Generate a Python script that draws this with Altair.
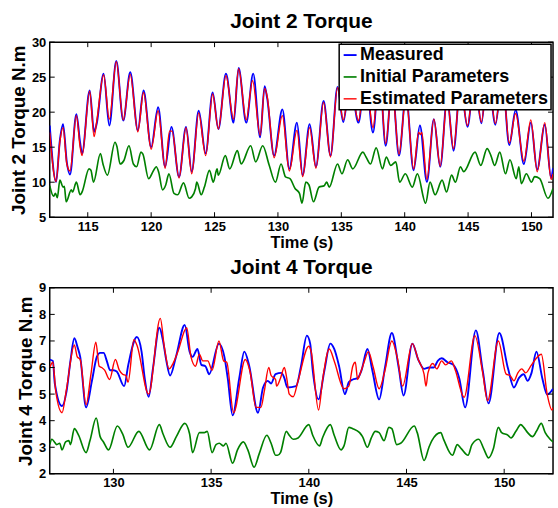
import altair as alt
import pandas as pd

# ---------------- Joint 2 (top panel) ----------------
j2_meas_t = [112.0, 112.5, 112.8, 113.05, 113.35, 113.6, 114.1, 114.4, 114.55, 115.15, 115.5, 115.7,
             116.25, 116.7, 117.25, 117.8, 118.35, 118.95, 119.4, 120.0, 120.55, 121.1, 121.6, 122.2,
             122.75, 123.2, 123.75, 124.3, 124.85, 125.3, 125.9, 126.5, 126.9, 127.5, 128.05, 128.6,
             128.95, 129.15, 129.7, 130.35, 130.9, 131.5, 131.95, 132.5, 133.0, 133.6, 134.15, 134.7,
             135.15, 135.7, 136.35, 136.9, 137.5, 138.0, 138.5, 139.0, 139.55, 140.1, 140.7, 141.2,
             141.75, 142.3, 142.8, 143.35, 143.85, 144.4, 144.95, 145.5, 146.05, 146.55, 147.15, 147.7,
             148.25, 148.75, 149.4, 149.95, 150.45, 151.05, 151.55, 151.7]
j2_meas_v = [18.1, 10.05, 16.0, 18.3, 12.8, 11.1, 19.7, 15.6, 14.1, 23.1, 17.2, 18.3,
             25.5, 18.1, 27.3, 18.8, 25.7, 17.4, 23.1, 15.0, 20.7, 12.2, 17.9, 10.75,
             17.9, 11.5, 20.2, 14.1, 22.8, 17.6, 25.5, 18.5, 26.3, 18.5, 25.5, 16.4,
             23.7, 22.0, 13.8, 20.4, 11.9, 18.5, 11.0, 18.3, 12.2, 21.6, 13.8, 23.6,
             18.6, 24.5, 18.5, 25.5, 17.1, 25.8, 15.2, 24.0, 13.8, 22.5, 11.7, 18.1,
             10.05, 19.0, 12.2, 22.0, 14.5, 24.0, 17.9, 25.0, 18.4, 26.0, 18.2, 25.0,
             15.3, 20.3, 12.6, 18.5, 11.8, 18.2, 10.6, 12.0]

j2_est_t = [112.0, 112.5, 112.8, 113.05, 113.35, 113.6, 114.1, 114.4, 114.55, 115.15, 115.5, 115.7,
            116.25, 116.7, 117.25, 117.8, 118.35, 118.95, 119.4, 120.0, 120.55, 121.1, 121.45, 121.65,
            122.2, 122.75, 123.2, 123.75, 124.3, 124.85, 125.3, 125.9, 126.5, 126.9, 127.5, 128.0,
            128.6, 128.95, 129.15, 129.7, 130.35, 130.9, 131.5, 131.95, 132.5, 133.0, 133.6, 134.15,
            134.7, 135.15, 135.7, 136.35, 136.9, 137.5, 138.0, 138.5, 139.0, 139.55, 140.1, 140.7,
            141.1, 141.25, 141.35, 141.75, 142.3, 142.8, 143.35, 143.85, 144.4, 144.95, 145.5, 146.05,
            146.55, 147.15, 147.7, 148.25, 148.75, 149.4, 149.95, 150.45, 151.05, 151.55, 151.7]
j2_est_v = [17.1, 10.1, 15.8, 17.8, 12.6, 11.6, 19.5, 15.0, 13.8, 23.0, 16.5, 18.6,
            25.3, 19.0, 27.2, 18.9, 25.4, 17.2, 22.8, 14.7, 20.2, 12.0, 17.3, 17.3,
            10.6, 17.8, 11.2, 19.9, 13.8, 22.6, 17.6, 25.2, 19.0, 26.2, 18.9, 24.5,
            16.7, 23.4, 22.3, 13.5, 19.5, 11.6, 17.4, 10.8, 17.8, 12.0, 21.4, 13.6,
            23.5, 18.9, 24.2, 18.8, 25.2, 17.8, 25.5, 15.5, 23.6, 14.0, 22.2, 11.9,
            17.1, 16.8, 17.1, 10.4, 19.0, 12.3, 21.8, 14.8, 23.8, 18.1, 24.8, 18.6,
            25.8, 18.4, 24.8, 15.6, 19.8, 13.0, 18.9, 11.5, 18.5, 10.4, 11.2]

j2_init_t = [112.0, 112.3, 112.45, 112.6, 112.8, 113.05, 113.15, 113.3, 113.7, 113.8, 114.1, 114.4,
             114.55, 115.1, 115.25, 115.45, 116.0, 116.2, 116.55, 117.15, 117.3, 117.55, 117.85, 118.25,
             118.6, 118.85, 119.2, 119.35, 119.8, 120.2, 120.4, 120.6, 120.9, 121.15, 121.4, 121.8,
             122.1, 122.55, 123.0, 123.2, 123.5, 123.6, 123.95, 124.2, 124.6, 124.9, 125.2, 125.3,
             125.85, 126.2, 126.8, 127.1, 127.85, 128.25, 128.8, 129.3, 129.8, 130.25, 130.6, 130.95,
             131.35, 131.7, 131.9, 132.2, 132.45, 132.8, 133.25, 133.65, 133.85, 134.05, 134.7, 135.05,
             135.5, 135.9, 136.7, 136.95, 137.3, 137.75, 138.25, 138.55, 138.9, 139.3, 139.6, 140.05,
             140.6, 141.0, 141.65, 142.0, 142.4, 142.95, 143.3, 143.7, 144.0, 144.4, 144.65, 145.55,
             146.0, 146.5, 146.8, 147.1, 147.5, 147.95, 148.3, 148.8, 149.0, 149.2, 149.6, 150.0,
             150.25, 150.65, 151.3, 151.7]
j2_init_v = [9.5, 8.0, 8.4, 7.8, 10.3, 9.3, 9.4, 7.2, 8.9, 8.6, 10.0, 8.2,
             8.6, 11.9, 11.7, 10.0, 14.1, 12.6, 11.0, 15.7, 15.1, 12.6, 13.1, 15.2,
             12.6, 12.2, 14.3, 14.0, 10.5, 11.7, 12.2, 11.4, 8.9, 9.6, 11.2, 8.4,
             8.2, 9.9, 7.7, 7.9, 9.1, 10.0, 8.2, 9.3, 11.7, 10.0, 11.9, 11.0,
             13.8, 11.9, 14.5, 12.6, 15.2, 12.9, 15.2, 12.5, 10.0, 12.6, 10.75, 10.5,
             9.1, 8.4, 7.0, 10.0, 9.6, 7.2, 9.3, 9.5, 10.0, 9.3, 12.6, 11.2,
             13.2, 11.9, 14.3, 13.6, 12.6, 14.9, 11.9, 13.6, 12.4, 12.9, 10.0, 11.2,
             9.3, 11.2, 7.0, 10.0, 8.2, 10.3, 8.6, 11.0, 10.0, 12.2, 11.5, 14.3,
             12.4, 14.8, 13.8, 12.4, 14.3, 11.2, 13.2, 10.5, 12.2, 9.8, 11.2, 10.0,
             10.8, 10.5, 7.7, 9.1]

# ---------------- Joint 4 (bottom panel) ----------------
j4_meas_t = [126.74, 126.9, 127.0, 127.37, 127.6, 127.8, 128.0, 128.17, 128.3, 128.6, 128.9, 129.15,
             129.32, 129.5, 129.66, 129.83, 130.0, 130.17, 130.55, 130.76, 131.2, 131.44, 131.6, 131.8,
             132.03, 132.35, 132.54, 132.71, 132.9, 133.2, 133.65, 133.9, 134.05, 134.3, 134.5, 134.71,
             134.9, 135.4, 135.68, 135.85, 136.1, 136.44, 136.7, 136.94, 137.4, 137.66, 137.9, 138.07,
             138.3, 138.6, 138.75, 138.9, 139.35, 139.6, 139.9, 140.07, 140.2, 140.5, 140.8, 141.1,
             141.3, 141.55, 141.85, 142.05, 142.25, 142.5, 142.7, 143.0, 143.25, 143.6, 143.9, 144.25,
             144.6, 144.85, 145.3, 145.6, 145.9, 146.15, 146.4, 146.6, 146.8, 147.1, 147.4, 147.7,
             148.0, 148.55, 148.9, 149.2, 149.75, 150.2, 150.5, 150.75, 151.0, 151.2, 151.4, 151.65,
             151.95, 152.2, 152.5]
j4_meas_v = [6.3, 6.25, 5.4, 4.55, 5.1, 6.25, 7.1, 6.75, 6.4, 4.5, 5.5, 6.4,
             6.55, 6.55, 6.25, 5.9, 5.9, 5.85, 5.3, 6.1, 7.15, 6.6, 5.6, 4.9,
             6.0, 7.5, 7.0, 6.25, 5.7, 6.4, 7.6, 6.6, 6.4, 6.7, 6.1, 6.05,
             5.75, 6.9, 6.4, 5.6, 4.2, 5.6, 6.6, 6.1, 4.3, 5.25, 5.5, 5.4,
             5.75, 5.8, 5.6, 5.25, 5.3, 6.05, 7.2, 6.9, 5.9, 4.8, 5.9, 6.9,
             6.7, 6.05, 5.0, 5.45, 5.55, 5.6, 5.9, 6.7, 5.9, 4.8, 6.0, 7.3,
             6.0, 4.95, 6.9, 6.3, 5.95, 6.0, 6.0, 6.25, 6.35, 6.2, 6.1, 5.6,
             4.5, 7.4, 5.9, 4.65, 7.3, 5.95, 5.25, 5.6, 5.75, 5.5, 5.8, 6.6,
             5.6, 4.98, 5.2]

j4_est_t = [126.74, 126.9, 127.05, 127.37, 127.6, 128.0, 128.15, 128.3, 128.6, 128.85, 129.1, 129.27,
            129.4, 129.55, 129.8, 130.1, 130.3, 130.47, 130.64, 130.75, 131.05, 131.2, 131.8, 132.4,
            132.6, 132.85, 133.05, 133.3, 133.75, 133.97, 134.2, 134.4, 134.57, 134.83, 135.05, 135.4,
            135.64, 135.8, 136.15, 136.75, 136.99, 137.3, 137.55, 137.72, 137.95, 138.07, 138.3, 138.35,
            138.55, 138.75, 138.87, 139.0, 139.2, 139.45, 140.0, 140.12, 140.5, 140.7, 141.05, 141.3,
            141.8, 142.05, 142.25, 142.38, 142.5, 142.62, 142.85, 143.05, 143.3, 143.6, 143.9, 144.25,
            144.55, 144.8, 145.3, 145.6, 145.9, 146.0, 146.1, 146.35, 146.55, 146.8, 147.0, 147.3,
            147.5, 147.95, 148.5, 148.9, 149.15, 149.7, 150.1, 150.3, 150.5, 150.7, 150.9, 151.1,
            151.4, 151.9, 152.2, 152.45, 152.5]
j4_est_v = [6.0, 6.2, 5.1, 4.3, 5.2, 6.85, 6.4, 6.3, 4.6, 5.75, 6.95, 6.05,
            6.0, 5.9, 5.55, 6.3, 5.9, 5.75, 5.7, 5.45, 7.05, 6.85, 5.0, 7.85,
            6.8, 5.95, 6.15, 6.6, 7.5, 6.4, 6.05, 6.5, 6.25, 6.25, 5.9, 7.0,
            6.25, 6.2, 4.3, 6.3, 5.85, 4.5, 4.5, 5.1, 6.0, 5.7, 5.55, 5.3,
            5.6, 6.0, 5.6, 5.0, 4.9, 5.5, 6.8, 6.6, 4.4, 5.5, 6.7, 6.25,
            5.2, 5.3, 6.05, 6.2, 5.55, 5.75, 6.25, 6.6, 6.0, 5.2, 5.9, 7.0,
            6.3, 5.3, 6.9, 6.3, 5.75, 5.3, 5.8, 6.15, 5.95, 6.25, 6.1, 6.25,
            5.9, 4.88, 7.2, 5.8, 4.75, 7.0, 5.75, 5.7, 5.5, 5.8, 5.95, 5.8,
            6.1, 6.5, 5.0, 4.4, 4.5]

j4_init_t = [126.74, 126.85, 126.98, 127.1, 127.25, 127.37, 127.55, 127.72, 127.8, 128.0, 128.22, 128.6,
             128.8, 129.12, 129.32, 129.49, 129.75, 130.2, 130.47, 130.75, 131.3, 131.85, 132.35, 132.54,
             132.9, 133.22, 133.65, 133.9, 134.05, 134.4, 134.65, 134.8, 135.05, 135.25, 135.42, 135.63,
             135.76, 136.1, 136.35, 136.65, 136.88, 137.2, 137.46, 137.85, 138.07, 138.3, 138.4, 138.55,
             138.85, 139.0, 139.2, 139.45, 140.0, 140.2, 140.55, 140.7, 141.1, 141.3, 141.65, 141.8,
             142.05, 142.25, 142.6, 142.75, 143.0, 143.2, 143.4, 143.6, 143.85, 144.1, 144.25, 144.5,
             144.7, 145.4, 145.55, 145.9, 146.15, 146.3, 146.75, 146.9, 147.35, 147.6, 147.8, 148.15,
             148.35, 148.7, 148.95, 149.2, 149.45, 149.7, 149.87, 150.2, 150.35, 150.6, 150.85, 151.0,
             151.2, 151.45, 151.65, 151.9, 152.1, 152.35, 152.5]
j4_init_v = [3.1, 3.3, 3.2, 3.1, 3.15, 2.9, 3.2, 3.25, 3.1, 3.7, 3.45, 2.8,
             3.25, 4.1, 3.4, 3.2, 2.9, 3.8, 3.5, 3.0, 3.6, 2.9, 3.85, 3.5,
             3.0, 3.4, 3.9, 3.5, 2.8, 3.55, 3.55, 3.6, 2.8, 3.1, 3.15, 3.05,
             3.15, 2.4, 2.9, 3.2, 2.9, 2.25, 2.75, 3.45, 3.15, 2.7, 2.7, 2.8,
             3.6, 3.45, 3.3, 3.35, 3.85, 3.45, 3.05, 3.35, 3.85, 3.45, 2.9, 3.05,
             3.75, 3.7, 3.55, 3.4, 3.0, 3.35, 3.6, 3.55, 3.25, 3.75, 3.7, 3.1,
             3.15, 3.8, 3.55, 2.5, 3.0, 3.25, 3.55, 3.3, 2.7, 3.1, 2.95, 2.7,
             3.1, 3.3, 2.95, 2.6, 2.95, 3.75, 3.55, 3.45, 3.35, 3.6, 3.85, 3.75,
             3.55, 3.4, 3.6, 3.9, 3.55, 3.3, 3.2]

series_names = ["Measured", "Initial Parameters", "Estimated Parameters"]
series_colors = ["#0000FF", "#008000", "#FF0000"]
series_widths = [1.9, 1.4, 1.9]

j2_xticks = [115, 120, 125, 130, 135, 140, 145, 150]
j2_yticks = [5, 10, 15, 20, 25, 30]
j2_xdomain = [112.0, 151.7]
j2_ydomain = [5, 30]

j4_xticks = [130, 135, 140, 145, 150]
j4_yticks = [2, 3, 4, 5, 6, 7, 8, 9]
j4_xdomain = [126.74, 152.5]
j4_ydomain = [2, 9]

FONT = "Liberation Sans"


def make_df(pairs):
    frames = []
    for k, (t, v) in enumerate(pairs):
        frames.append(pd.DataFrame({"time": t, "torque": v, "series": series_names[k],
                                    "ord": range(len(t))}))
    return pd.concat(frames, ignore_index=True)


def panel(df, xticks, yticks, xdom, ydom, title, ytitle, w, h):
    xs = alt.Scale(domain=xdom, nice=False, zero=False)
    ys = alt.Scale(domain=ydom, nice=False, zero=False)
    xaxis = alt.Axis(values=xticks, format="d", labelOverlap=False)
    yaxis = alt.Axis(values=yticks, format="d", labelOverlap=False)
    lines = alt.Chart(df).mark_line(interpolate="monotone", clip=True).encode(
        x=alt.X("time:Q", scale=xs, title="Time (s)", axis=xaxis),
        y=alt.Y("torque:Q", scale=ys, title=ytitle, axis=yaxis),
        color=alt.Color("series:N",
                        scale=alt.Scale(domain=series_names, range=series_colors),
                        sort=series_names,
                        legend=alt.Legend(title=None, orient="top-right", labelLimit=0)),
        strokeWidth=alt.StrokeWidth("series:N",
                                    scale=alt.Scale(domain=series_names, range=series_widths),
                                    legend=None),
        detail="series:N",
        order="ord:Q",
    )
    xt = pd.DataFrame({"time": xticks})
    yt = pd.DataFrame({"torque": yticks})
    tick_len = 5
    xt_top = alt.Chart(xt).mark_rule(color="black", strokeWidth=1).encode(
        x=alt.X("time:Q", scale=xs, title="Time (s)", axis=xaxis),
        y=alt.value(0), y2=alt.value(tick_len))
    xt_bot = alt.Chart(xt).mark_rule(color="black", strokeWidth=1).encode(
        x=alt.X("time:Q", scale=xs, title="Time (s)", axis=xaxis),
        y=alt.value(h - tick_len), y2=alt.value(h))
    yt_l = alt.Chart(yt).mark_rule(color="black", strokeWidth=1).encode(
        y=alt.Y("torque:Q", scale=ys, title=ytitle, axis=yaxis),
        x=alt.value(0), x2=alt.value(tick_len))
    yt_r = alt.Chart(yt).mark_rule(color="black", strokeWidth=1).encode(
        y=alt.Y("torque:Q", scale=ys, title=ytitle, axis=yaxis),
        x=alt.value(w - tick_len), x2=alt.value(w))
    return alt.layer(lines, xt_top, xt_bot, yt_l, yt_r).properties(
        width=w, height=h,
        title=alt.TitleParams(title, fontSize=21, fontWeight="bold", font=FONT,
                              color="black", offset=4),
    )


df2 = make_df([(j2_meas_t, j2_meas_v), (j2_init_t, j2_init_v), (j2_est_t, j2_est_v)])
df4 = make_df([(j4_meas_t, j4_meas_v), (j4_init_t, j4_init_v), (j4_est_t, j4_est_v)])

top = panel(df2, j2_xticks, j2_yticks, j2_xdomain, j2_ydomain,
            "Joint 2 Torque", "Joint 2 Torque N.m", 506, 176)
bottom = panel(df4, j4_xticks, j4_yticks, j4_xdomain, j4_ydomain,
               "Joint 4 Torque", "Joint 4 Torque N.m", 506, 187)

chart = alt.vconcat(top, bottom, spacing=4).properties(
    padding={"left": 8, "top": 9, "right": 3, "bottom": 0},
    background="white",
).configure_view(
    stroke="black", strokeWidth=1.5
).configure_axis(
    grid=False, ticks=False, domain=False, labelOverlap=False,
    labelFont=FONT, labelFontSize=13, labelFontWeight="bold", labelColor="black",
    labelPadding=4,
    titleFont=FONT, titleFontSize=16.5, titleFontWeight="bold", titleColor="black",
    titlePadding=1,
).configure_axisX(
    labelPadding=3, titlePadding=1,
).configure_axisY(
    titleFontSize=19, titlePadding=3,
).configure_legend(
    labelFont=FONT, labelFontSize=18, labelFontWeight="bold", labelColor="black",
    symbolType="stroke", symbolSize=169, symbolStrokeWidth=1.5,
    padding=2, rowPadding=4, labelOffset=1, offset=2,
    strokeColor="black", fillColor="white", strokeWidth=1.5, cornerRadius=0,
    zindex=1,
)

chart.save("out.html", embed_options={"renderer": "svg", "actions": False})
